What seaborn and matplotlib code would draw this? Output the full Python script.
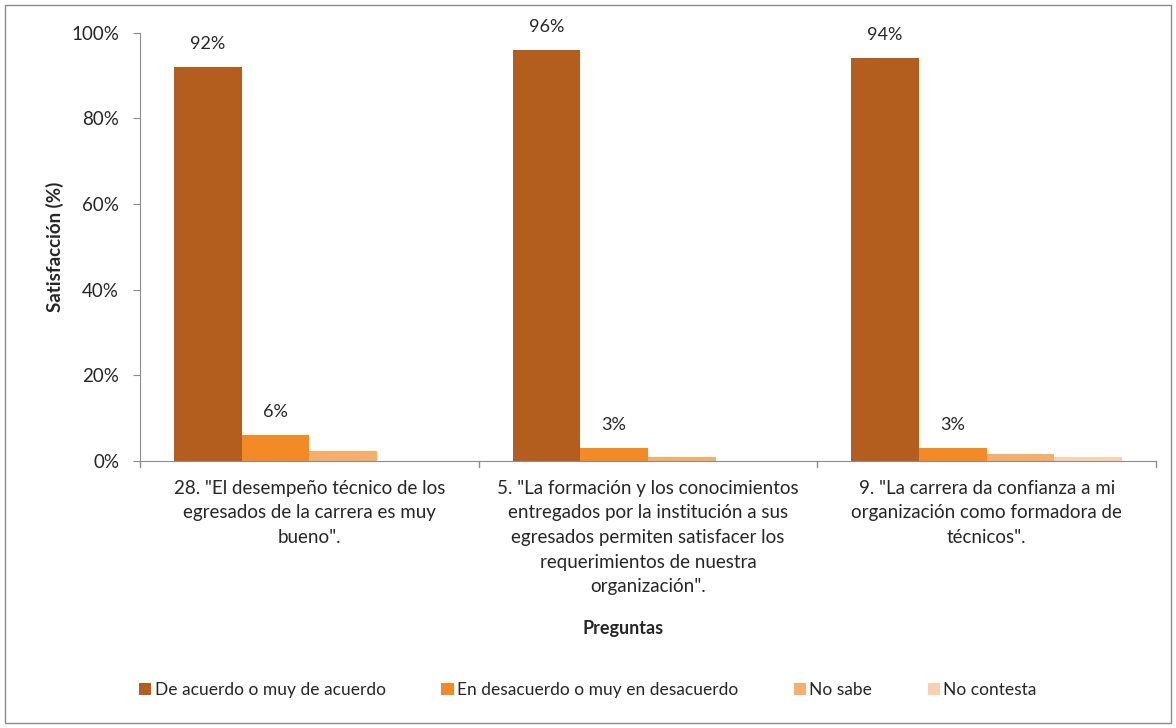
import pandas as pd
import numpy as np
import seaborn as sns
from matplotlib import pyplot as plt
from matplotlib.patches import Rectangle

preguntas = ['28. "El desempeño técnico de los\negresados de la carrera es muy\nbueno".',
             '5. "La formación y los conocimientos\nentregados por la institución a sus\negresados permiten satisfacer los\nrequerimientos de nuestra\norganización".',
             '9. "La carrera da confianza a mi\norganización como formadora de\ntécnicos".']
series = ['De acuerdo o muy de acuerdo', 'En desacuerdo o muy en desacuerdo', 'No sabe', 'No contesta']
de_acuerdo = [92, 96, 94]
desacuerdo = [6, 3, 3]
no_sabe = [2.4, 0.8, 1.7]
no_contesta = [0, 0, 0.8]
colores = ['#B35E1E', '#F28A25', '#F5AE6C', '#F8D2B0']

rows = []
for vals, s in zip([de_acuerdo, desacuerdo, no_sabe, no_contesta], series):
    for p, v in zip(preguntas, vals):
        rows.append({'pregunta': p, 'serie': s, 'valor': v})
df = pd.DataFrame(rows)

sns.set_style('white')
plt.rcParams['font.family'] = ['Lato', 'DejaVu Sans']

fig = plt.figure(figsize=(11.76, 7.28), dpi=100)
ax = fig.add_axes([0.119, 0.367, 0.864, 0.588])
sns.barplot(data=df, x='pregunta', y='valor', hue='serie', hue_order=series,
            palette=colores, saturation=1, width=0.8, edgecolor='none', ax=ax, legend=True)

# labels only for the first two series
for cont, s in zip(ax.containers[:2], series[:2]):
    for bar in cont:
        h = bar.get_height()
        ax.annotate('%d%%' % round(h), (bar.get_x() + bar.get_width() / 2, h),
                    xytext=(0, 11), textcoords='offset points', ha='center', va='bottom', fontsize=13)

ax.set_ylim(0, 100)
ax.set_xlim(-0.5, 2.5)
ax.set_yticks(range(0, 101, 20))
ax.set_yticklabels(['%d%%' % t for t in range(0, 101, 20)], fontsize=13.5)
ax.set_xticks([])
for xb in [-0.5, 0.5, 1.5, 2.5]:
    ax.plot([xb, xb], [0, -1.5], color='#8c8c8c', lw=1, clip_on=False)
for i, p in enumerate(preguntas):
    ax.text(i, -4.4, p, ha='center', va='top', fontsize=13.5, linespacing=1.55)
ax.set_xlabel('')
ax.set_ylabel('Satisfacción (%)', fontsize=13.5, fontweight='bold', labelpad=5)
fig.text(0.53, 0.137, 'Preguntas', ha='center', va='center', fontsize=13, fontweight='bold')

for side in ['top', 'right']:
    ax.spines[side].set_visible(False)
for side in ['left', 'bottom']:
    ax.spines[side].set_color('#8c8c8c')
ax.tick_params(axis='y', length=5, pad=10, color='#8c8c8c', left=True, direction='out')

handles, labels = ax.get_legend_handles_labels()
ax.get_legend().remove()
fig.legend(handles, labels, loc='center', bbox_to_anchor=(0.5, 0.052), ncol=4, frameon=False,
           fontsize=12.5, handlelength=0.7, handleheight=0.7, handletextpad=0.2, columnspacing=3.2)

fig.add_artist(Rectangle((0.004, 0.007), 0.992, 0.986, transform=fig.transFigure,
                         fill=False, edgecolor='#8c8c8c', lw=1))

plt.savefig('out.png', dpi=100)
